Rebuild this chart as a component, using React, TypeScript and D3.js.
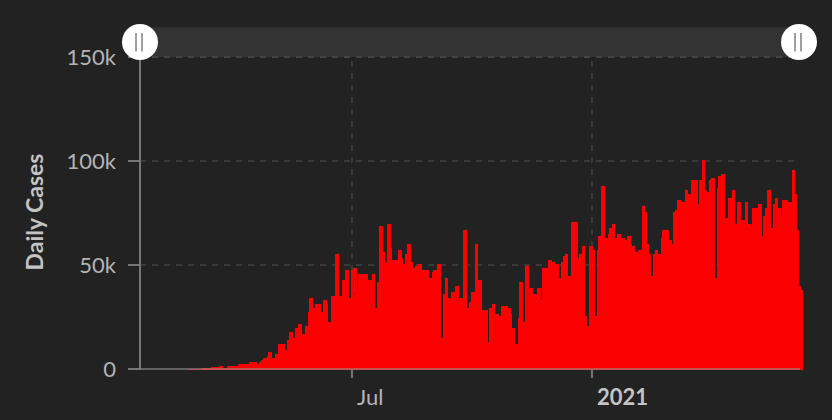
import React from 'react';
import * as d3 from 'd3';

// Brazil-style daily new cases, one value per day starting 26 Feb 2020
const firstDate = new Date(2020, 1, 26);
const dailyCases: number[] = [
  200,
  50, 50, 50, 50, 50, 50,
  200, 200, 200,
  400, 400, 400, 400, 400, 400, 400, 400,
  800, 800, 800, 800, 800, 800,
  1400, 1400, 1400,
  600, 600, 600,
  1400, 1400, 1400, 1400, 1400, 1400, 1400, 1400, 1400,
  2400, 2400, 2400, 2400, 2400, 2400, 2400, 2400,
  3400, 3400, 3400, 3400, 3400, 3400,
  2400, 2400,
  3400,
  4300, 4300,
  5300, 5300, 5300,
  6300,
  8200, 8200, 8200,
  5300, 5300,
  7200, 7200,
  12000, 12000, 12000, 12000, 12000, 12000,
  9100,
  13900, 13900,
  17800, 17800, 17800,
  14900,
  19700, 19700, 19700,
  21600, 21600, 21600,
  16800, 16800,
  20700, 20700,
  27400,
  34100, 34100, 34100,
  29300, 29300,
  31300, 31300, 31300, 31300,
  27400, 27400,
  33200, 33200, 33200,
  31300,
  22600, 22600,
  35100, 35100, 35100,
  55300, 55300, 55300,
  35100, 35100,
  42800, 42800, 42800,
  47600, 47600, 47600,
  34300,
  47600, 47600,
  48600, 48600, 48600,
  38000,
  45700, 45700, 45700, 45700, 45700, 45700, 45700,
  42800, 42800, 42800,
  45700, 45700, 45700,
  29300,
  41800, 41800,
  68800, 68800, 68800,
  56300,
  51400, 51400,
  69700, 69700, 69700,
  58200,
  52400, 52400, 52400, 52400,
  57200, 57200, 57200,
  53400,
  50500, 50500,
  55300,
  60100, 60100, 60100,
  51400, 51400,
  48600,
  49500, 49500, 49500,
  50500, 50500, 50500,
  47600, 47600, 47600, 47600, 47600,
  43700, 43700,
  46600,
  47600, 47600, 47600,
  50500, 50500, 50500,
  14900, 14900,
  36100,
  43700, 43700, 43700,
  34100, 34100,
  37000, 37000, 37000,
  39900, 39900, 39900,
  34100, 34100, 34100,
  66800, 66800, 66800,
  29300, 29300,
  32200,
  37000, 37000, 37000,
  60100, 60100, 60100,
  42800, 42800, 42800,
  28400, 28400, 28400, 28400,
  13000,
  29300, 29300,
  31300, 31300, 31300,
  26400, 26400, 26400,
  25500,
  30300, 30300, 30300, 30300, 30300, 30300,
  29300, 29300,
  26400,
  19700, 19700,
  12000, 12000,
  24500,
  41800, 41800, 41800,
  22600, 22600,
  49500, 49500, 49500,
  38900, 38900, 38900,
  36100, 36100, 36100,
  38900, 38900, 38900,
  33200,
  48600, 48600, 48600, 48600,
  52400, 52400, 52400,
  51400, 51400, 51400,
  50500, 50500, 50500,
  43700,
  51400, 51400,
  54300,
  55300, 55300, 55300,
  44700, 44700,
  70700, 70700, 70700, 70700, 70700,
  53400,
  55300, 55300,
  59100, 59100, 59100,
  25500,
  20700, 20700,
  59100, 59100, 59100,
  57200,
  25500, 25500,
  57200,
  63900, 63900,
  88000, 88000, 88000,
  63000, 63000,
  64900,
  67800, 67800,
  69700, 69700, 69700,
  63000,
  64900, 64900, 64900,
  63000, 63000, 63000,
  62000, 62000,
  63900, 63900, 63900,
  60100,
  59100, 59100,
  56300, 56300,
  57200, 57200, 57200,
  78400, 78400, 78400,
  75500,
  60100, 60100,
  55300,
  44700, 44700,
  55300,
  57200, 57200, 57200,
  55300, 55300,
  63000,
  66800, 66800, 66800, 66800, 66800,
  62000, 62000,
  60100,
  75500, 75500,
  76500,
  81300, 81300, 81300,
  80300, 80300, 80300,
  86100, 86100, 86100,
  84100, 84100,
  90900, 90900, 90900, 90900, 90900,
  79300,
  90900, 90900,
  100500, 100500, 100500,
  86100,
  85100, 85100,
  90900,
  91800, 91800, 91800,
  43700, 43700,
  87000,
  92800, 92800,
  93800, 93800, 93800,
  72600, 72600,
  82200, 82200, 82200,
  86100, 86100, 86100,
  69700,
  80300, 80300, 80300,
  71600, 71600, 71600,
  80300, 80300, 80300,
  69700, 69700,
  68800,
  77400, 77400, 77400, 77400,
  79300, 79300, 79300,
  63900,
  73600, 73600,
  77400,
  86100, 86100, 86100,
  67800, 67800,
  79300,
  82200, 82200, 82200,
  77400, 77400,
  73600,
  81300, 81300, 81300, 81300,
  80300, 80300, 80300,
  95700, 95700, 95700,
  84100,
  66800, 66800,
  39900,
  38000, 38000,
];

const yTicks = [0, 50000, 100000, 150000];
const yTickLabels = ['0', '50k', '100k', '150k'];
const xTicks = [new Date(2020, 6, 1), new Date(2021, 0, 1)];
const xTickLabels = ['Jul', '2021'];
const xTickBold = [false, true];
const yAxisTitle = 'Daily Cases';
const xDomain = [new Date(2020, 0, 20, 12), new Date(2021, 5, 9, 12)];

const FONT = 'Lato, "Open Sans", sans-serif';

export default function App() {
  const W = 832;
  const H = 420;
  const left = 140;
  const right = 800;
  const top = 57;
  const bottom = 369;

  const x = d3.scaleTime().domain(xDomain).range([left, right]);
  const y = d3.scaleLinear().domain([0, 150000]).range([bottom, top]);

  const bars = dailyCases.map((v, i) => {
    const d0 = d3.timeDay.offset(firstDate, i);
    const d1 = d3.timeDay.offset(firstDate, i + 1);
    return { x0: x(d0), x1: x(d1), v };
  });

  const gridColor = '#3a3a3a';
  const axisColor = '#767676';

  return (
    <svg
      width={W}
      height={H}
      style={{ position: 'fixed', left: 0, top: 0, background: '#222222' }}
      fontFamily={FONT}
    >
      <rect x={0} y={0} width={W} height={H} fill="#222222" />

      {/* brush band */}
      <rect x={left} y={27} width={799 - left} height={top - 27} fill="#333333" />
      <line x1={left} x2={799} y1={27.5} y2={27.5} stroke="#2b2b2b" strokeWidth={1} />

      {/* horizontal gridlines */}
      {yTicks.filter((t) => t > 0).map((t) => (
        <line
          key={'gy' + t}
          x1={left}
          x2={795}
          y1={y(t)}
          y2={y(t)}
          stroke={t === 150000 ? '#434343' : gridColor}
          strokeWidth={2}
          strokeDasharray="6,6"
        />
      ))}
      {/* vertical gridlines */}
      {xTicks.map((t, i) => (
        <line
          key={'gx' + i}
          x1={x(t)}
          x2={x(t)}
          y1={top + 4}
          y2={bottom}
          stroke={gridColor}
          strokeWidth={2}
          strokeDasharray="6,6"
        />
      ))}

      {/* bars */}
      <g fill="#fa0000" shapeRendering="crispEdges">
        {bars.map((b, i) => (
          <rect
            key={i}
            x={b.x0}
            width={b.x1 - b.x0}
            y={y(b.v)}
            height={y(0) - y(b.v) + 1}
          />
        ))}
      </g>

      {/* axes */}
      <line x1={left} x2={left} y1={top} y2={bottom + 1} stroke={axisColor} strokeWidth={2} />
      <line x1={left} x2={right} y1={bottom} y2={bottom} stroke="rgba(150,150,150,0.55)" strokeWidth={2} />
      {yTicks.map((t) => (
        <line key={'ty' + t} x1={128} x2={left} y1={y(t)} y2={y(t)} stroke={axisColor} strokeWidth={2} />
      ))}
      {xTicks.map((t, i) => (
        <line key={'tx' + i} x1={x(t)} x2={x(t)} y1={bottom} y2={bottom + 9} stroke={axisColor} strokeWidth={2} />
      ))}

      {/* tick labels */}
      {yTicks.map((t, i) => (
        <text
          key={'ly' + t}
          x={116}
          y={y(t)}
          dy="0.36em"
          textAnchor="end"
          fontSize={22}
          fill="#b4b4b4"
        >
          {yTickLabels[i]}
        </text>
      ))}
      {xTicks.map((t, i) => (
        <text
          key={'lx' + i}
          x={x(t) + 5}
          y={405}
          textAnchor="start"
          fontSize={22}
          fontWeight={xTickBold[i] ? 700 : 400}
          fill={xTickBold[i] ? '#c4c4c4' : '#b4b4b4'}
        >
          {xTickLabels[i]}
        </text>
      ))}

      {/* axis title */}
      <text
        transform={`translate(43, 212) rotate(-90)`}
        textAnchor="middle"
        fontSize={23}
        fontWeight={700}
        fill="#c4c4c4"
      >
        {yAxisTitle}
      </text>

      {/* brush handles */}
      {[left, 799].map((cx, i) => (
        <g key={'h' + i}>
          <circle cx={cx} cy={42} r={18} fill="#ffffff" />
          <rect x={cx - 5} y={33} width={2} height={18.5} fill="#a0a0a0" />
          <rect x={cx + 1} y={33} width={2} height={18.5} fill="#a0a0a0" />
        </g>
      ))}
    </svg>
  );
}
